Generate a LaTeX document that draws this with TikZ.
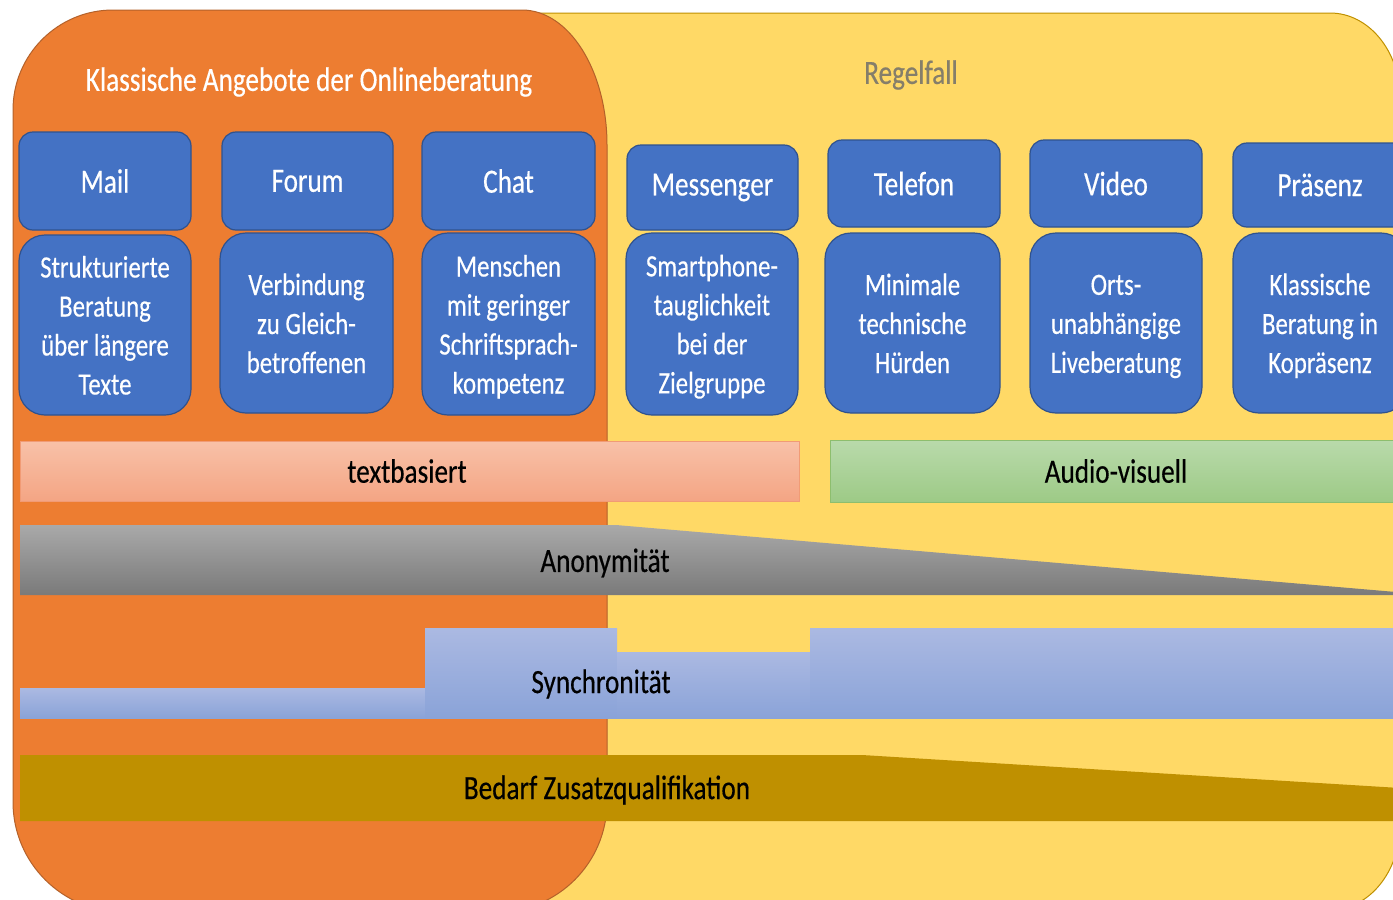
\documentclass[tikz,border=0pt]{standalone}
\usepackage{fontspec}
\setmainfont{Carlito}[FakeStretch=0.8, FakeBold=0.4]
\definecolor{orangeF}{HTML}{ED7D31}
\definecolor{orangeB}{HTML}{B4612A}
\definecolor{yellowF}{HTML}{FFD966}
\definecolor{yellowB}{HTML}{BF9000}
\definecolor{blueF}{HTML}{4472C4}
\definecolor{blueB}{HTML}{2F528F}
\definecolor{salmonT}{HTML}{F8C1A8}
\definecolor{salmonBt}{HTML}{F4A584}
\definecolor{salmonB}{HTML}{F19B75}
\definecolor{greenT}{HTML}{B9DAAB}
\definecolor{greenBt}{HTML}{9DCA86}
\definecolor{greenB}{HTML}{8DBE6E}
\definecolor{greyT}{HTML}{A9A9A9}
\definecolor{greyBt}{HTML}{7A7A7A}
\definecolor{syncT}{HTML}{ABB9E2}
\definecolor{syncBt}{HTML}{8AA3D8}
\definecolor{goldF}{HTML}{BF9000}
\definecolor{regelC}{HTML}{857E6A}
\newcommand\hdrfont{\fontsize{34}{40}\selectfont}
\newcommand\dscfont{\fontsize{31}{39}\selectfont}
\newcommand\barfont{\fontsize{34}{40}\selectfont}
\newcommand\topstrut{\rule{0pt}{27pt}}
\newcommand\botstrut{\rule[-5pt]{0pt}{5pt}}
\tikzset{
  hdr/.style={draw=blueB, fill=blueF, line width=1.2pt, rounded corners=14pt,
    text=white, font=\hdrfont, inner sep=0pt},
  dsc/.style={draw=blueB, fill=blueF, line width=1.2pt, rounded corners=26pt,
    text=white, font=\dscfont, align=center, inner sep=0pt},
  barlabel/.style={text=black, font=\barfont, inner sep=0pt},
}
\begin{document}
\begin{tikzpicture}[x=1pt,y=-1pt]
\useasboundingbox (0,0) rectangle (1393,900);
\clip (0,0) rectangle (1393,900);
\fill[white] (0,0) rectangle (1393,900);

% yellow background panel
\draw[fill=yellowF, draw=yellowB, line width=1pt]
  (300,13) -- (1330,13) .. controls (1368.7,13) and (1400,51.1) .. (1400,98)
  -- (1400,825) .. controls (1400,871.9) and (1368.7,910) .. (1330,910)
  -- (300,910) -- cycle;

% orange panel
\draw[fill=orangeF, draw=orangeB, line width=1pt]
  (113,10) -- (522,10) .. controls (568.9,10) and (607,70.4) .. (607,145)
  -- (607,802) .. controls (607,862.75) and (557.75,912) .. (497,912)
  -- (123,912) .. controls (62.25,912) and (13,862.75) .. (13,802)
  -- (13,110) .. controls (13,54.8) and (57.8,10) .. (113,10) -- cycle;

% titles
\node[text=white, font=\hdrfont, inner sep=0pt] (title) at (309,82) {Klassische Angebote der Onlineberatung};
\node[text=regelC, font=\hdrfont, inner sep=0pt] (regel) at (911,75) {Regelfall};

% header boxes
\node[hdr, minimum width=172pt, minimum height=98pt] (mailh) at (105,181) {Mail};
\node[hdr, minimum width=171pt, minimum height=98pt] (forumh) at (307.5,181) {Forum};
\node[hdr, minimum width=173pt, minimum height=98pt] (chath) at (508.5,181) {Chat};
\node[hdr, minimum width=171pt, minimum height=85pt] (messh) at (712.5,187.5) {Messenger};
\node[hdr, minimum width=172pt, minimum height=87pt] (telh) at (914,183.5) {Telefon};
\node[hdr, minimum width=172pt, minimum height=87pt] (vidh) at (1116,183.5) {Video};
\node[hdr, minimum width=174pt, minimum height=84pt] (praeh) at (1320,185) {Präsenz};

% description boxes
\node[dsc, minimum width=172pt, minimum height=180pt] (maild) at (105,325) {\topstrut Strukturierte\\Beratung\\über längere\\Texte\botstrut};
\node[dsc, minimum width=173pt, minimum height=180pt] (forumd) at (306.5,323) {\topstrut Verbindung\\zu Gleich-\\betroffenen\botstrut};
\node[dsc, minimum width=173pt, minimum height=182pt] (chatd) at (508.5,324) {\topstrut Menschen\\mit geringer\\Schriftsprach-\\kompetenz\botstrut};
\node[dsc, minimum width=172pt, minimum height=182pt] (messd) at (712,324) {\topstrut Smartphone-\\tauglichkeit\\bei der\\Zielgruppe\botstrut};
\node[dsc, minimum width=175pt, minimum height=180pt] (teld) at (912.5,323) {\topstrut Minimale\\technische\\Hürden\botstrut};
\node[dsc, minimum width=172pt, minimum height=180pt] (vidd) at (1116,323) {\topstrut Orts-\\unabhängige\\Liveberatung\botstrut};
\node[dsc, minimum width=174pt, minimum height=180pt] (praed) at (1320,323) {\topstrut Klassische\\Beratung in\\Kopräsenz\botstrut};

% textbasiert / audio-visuell bars
\draw[top color=salmonT, bottom color=salmonBt, draw=salmonB, line width=0.8pt]
  (20,441) rectangle (799,501);
\node[barlabel] (textb) at (407,471) {textbasiert};
\draw[top color=greenT, bottom color=greenBt, draw=greenB, line width=0.8pt]
  (830,440) rectangle (1410,502);
\node[barlabel] (audio) at (1116,471) {Audio-visuell};

% Anonymitaet wedge
\shade[top color=greyT, bottom color=greyBt]
  (20,525) -- (616,525) -- (1396,592) -- (1396,595) -- (20,595) -- cycle;
\node[barlabel] (anon) at (605,563) {Anonymität};

% Synchronitaet steps
\shade[top color=syncT, bottom color=syncBt] (20,688) rectangle (425,718);
\shade[top color=syncT, bottom color=syncBt] (425,628) rectangle (617,718);
\shade[top color=syncT, bottom color=syncBt] (617,652) rectangle (810,718);
\shade[top color=syncT, bottom color=syncBt] (810,628) rectangle (1400,718);
\node[barlabel] (sync) at (601,684) {Synchronität};

% Bedarf Zusatzqualifikation wedge
\fill[goldF] (20,755) -- (862,755) -- (1400,788) -- (1400,821) -- (20,821) -- cycle;
\node[barlabel] (bedarf) at (607,790) {Bedarf Zusatzqualifikation};
\end{tikzpicture}
\end{document}
